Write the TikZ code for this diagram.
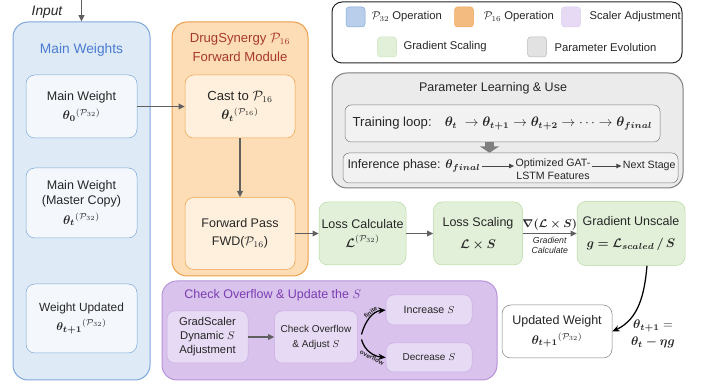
\documentclass[tikz,border=0pt]{standalone}
\usepackage[no-math]{fontspec}
\setmainfont{Liberation Sans}
\usepackage{amsmath,bm}
\usetikzlibrary{arrows.meta,positioning}
\usepackage{xcolor}
\definecolor{ink}{HTML}{262626}
\definecolor{flowgray}{HTML}{5F5F5F}
\definecolor{mwfill}{HTML}{DEEBF7}
\definecolor{mwline}{HTML}{7EA6DA}
\definecolor{mwinner}{HTML}{F4F8FD}
\definecolor{mwtext}{HTML}{4A7BD0}
\definecolor{fpfill}{HTML}{FDDDB6}
\definecolor{fpline}{HTML}{EE9E48}
\definecolor{fpinner}{HTML}{FEF0DC}
\definecolor{fptext}{HTML}{A6392B}
\definecolor{gsfill}{HTML}{E2F0D9}
\definecolor{gsline}{HTML}{B4D99E}
\definecolor{scfill}{HTML}{D9C2EC}
\definecolor{scline}{HTML}{B693DA}
\definecolor{scinner}{HTML}{E7DAF4}
\definecolor{sctext}{HTML}{7A3EB3}
\definecolor{pefill}{HTML}{EBEBEB}
\definecolor{peline}{HTML}{7F7F7F}
\definecolor{peinner}{HTML}{F2F2F2}
\definecolor{pekey}{HTML}{E2E2E2}
\newcommand{\fsz}[2]{\fontsize{#1}{#2}\selectfont}
\tikzset{
  >={Triangle[length=5pt,width=4.5pt]},
  every node/.style={text=ink,font=\fsz{10}{12.5}},
  wh/.style 2 args={minimum width=#1*0.8pt,minimum height=#2*0.8pt},
  panel/.style={draw=#1line,fill=#1fill,rounded corners=12pt,line width=0.8pt},
  ttl/.style={font=\fsz{11}{13},align=center},
  mwbox/.style={draw=mwline,fill=mwinner,rounded corners=7pt,align=center,inner sep=2pt},
  fpbox/.style={draw=fpline,fill=fpinner,rounded corners=7pt,align=center,inner sep=2pt},
  lossbox/.style={draw=gsline,fill=gsfill,rounded corners=7pt,align=center,inner sep=2pt},
  scbox/.style={draw=scline!75,fill=scinner,rounded corners=6pt,align=center,inner sep=2pt},
  pebox/.style={draw=peline,fill=peinner,rounded corners=5pt,align=center,inner sep=2pt},
  outbox/.style={draw=peline,fill=white,rounded corners=7pt,align=center,inner sep=2pt},
  swatch/.style 2 args={draw=#1,fill=#2,rounded corners=2.5pt,minimum width=15.2pt,minimum height=16pt,inner sep=0pt},
  key/.style={anchor=west,font=\fsz{9}{11},inner sep=1pt},
  flow/.style={->,draw=flowgray,line width=1.2pt},
  thinflow/.style={-{Triangle[length=4pt,width=3.5pt]},draw=ink!85,line width=0.7pt},
  curvearrow/.style={-{Stealth[length=6pt,width=5pt]},draw=black,line width=1pt},
  fat/.style={-{Triangle[length=5pt,width=15pt]},draw=peline,line width=7pt},
  tag/.style={font=\fsz{5}{6}\bfseries,inner sep=0.6pt,sloped},
}

\begin{document}
\begin{tikzpicture}[x=0.8pt,y=-0.8pt]
\useasboundingbox (0,0) rectangle (705,387);

% Main weights column (FP32 master copy)
\node[panel=mw,wh={137}{358}] (mw) at (81.5,201) {};
\node[ttl,text=mwtext] (mwtitle) at (81.5,50) {Main Weights};
\node[mwbox,wh={111}{63}] (w0) at (81.5,106.5) {Main Weight\\[3pt] $\bm{\theta_0}{}^{(\mathcal{P}_{32})}$};
\node[mwbox,wh={111}{70}] (wt) at (81.5,203) {Main Weight\\(Master Copy)\\[3pt] $\bm{\theta_t}{}^{(\mathcal{P}_{32})}$};
\node[mwbox,wh={111}{69},font=\fsz{9.5}{12}] (wu) at (81.5,318.5) {Weight Updated\\[3pt] $\bm{\theta_{t+1}}{}^{(\mathcal{P}_{32})}$};
\coordinate (in) at (81.5,0);
\node[font=\fsz{11}{13}\itshape] (inlbl) at (47,12) {Input};
\draw[flow] (in) -- (mw);

% FP16 forward module
\node[panel=fp,wh={136}{254}] (fp) at (240,149) {};
\node[ttl,text=fptext,font=\fsz{10.5}{15}] (fptitle) at (240,47.5) {DrugSynergy $\mathcal{P}_{16}$\\Forward Module};
\node[fpbox,wh={110}{63},font=\fsz{10.5}{13}] (cast) at (240,106.5) {Cast to $\mathcal{P}_{16}$\\[2pt] $\bm{\theta_t}{}^{(\mathcal{P}_{16})}$};
\node[fpbox,wh={110}{72}] (fwd) at (240,233.5) {Forward Pass\\[2pt] FWD($\mathcal{P}_{16}$)};
\draw[flow] (w0) -- (cast);
\draw[flow] (cast) -- (fwd);

% loss + gradient chain
\node[lossbox,wh={87}{63}] (lcalc) at (362.5,233.5) {Loss Calculate\\[2pt] $\bm{\mathcal{L}}^{(\mathcal{P}_{32})}$};
\node[lossbox,wh={89}{63},right=21.6pt of lcalc] (lscale) {Loss Scaling\\[5pt] $\bm{\mathcal{L}\times S}$};
\node[lossbox,wh={108}{64},right=43.2pt of lscale] (gun) {Gradient Unscale\\[5pt] $\bm{g=\mathcal{L}_{scaled}\,/\,S}$};
\draw[flow] (fwd) -- (lcalc);
\draw[flow] (lcalc) -- (lscale);
\draw[flow] (lscale) -- node[above,font=\fsz{9}{11},inner sep=2pt] {$\bm{\nabla(\mathcal{L}\times S)}$}
  node[below,font=\fsz{7}{8.5}\itshape,align=center,inner sep=2pt] {Gradient\\Calculate} (gun);

% optimizer step
\node[outbox,wh={110}{53}] (upd) at (557,331.5) {Updated Weight\\[3pt] $\bm{\theta_{t+1}}{}^{(\mathcal{P}_{32})}$};
\draw[curvearrow] ([xshift=12.8pt]gun.south) to[out=-95,in=25] (upd.east);
\node[align=center,font=\fsz{10}{13}] (rule) at (653,334) {$\bm{\theta_{t+1}} =$\\$\bm{\theta_t-\eta g}$};

% legend
\node[draw=ink,rounded corners=8pt,line width=0.8pt,wh={350}{61}] (legend) at (507,32.5) {};
\node[swatch={mwline}{mwline!55}] (kb) at (355.5,17) {};
\node[key] at (370,17) {$\mathcal{P}_{32}$ Operation};
\node[swatch={fpline!90}{fpline!70}] (ko) at (464,17) {};
\node[key] at (482,17) {$\mathcal{P}_{16}$ Operation};
\node[swatch={scline!45}{scinner}] (kp) at (571,17) {};
\node[key] at (588,17) {Scaler Adjustment};
\node[swatch={gsline!70}{gsfill}] (kg) at (387,47) {};
\node[key] at (402,47) {Gradient Scaling};
\node[swatch={peline!55}{pekey}] (kq) at (537,47) {};
\node[key] at (553,47) {Parameter Evolution};

% parameter learning & use
\node[panel=pe,wh={351}{115}] (pe) at (507.5,130.5) {};
\node (petitle) at (493,88) {Parameter Learning \& Use};
\node[pebox,wh={315}{37},font=\fsz{10.5}{13}] (train) at (502.5,123.5)
  {Training loop:\quad $\bm{\theta_t}\;\to\bm{\theta_{t+1}}\to\bm{\theta_{t+2}}\to\cdots\to\bm{\theta_{final}}$};
\node[pebox,wh={335}{30}] (infer) at (510.5,168) {};
\node[anchor=west,inner sep=1pt] (inf1) at (346,166) {Inference phase: $\bm{\theta_{final}}$};
\node[font=\fsz{8.5}{10},align=center,inner sep=1pt] (inf2) at (553,169) {Optimized GAT-\\LSTM Features};
\node[font=\fsz{8.5}{10},anchor=east,inner sep=1pt] (inf3) at (677,166) {Next Stage};
\draw[thinflow] (inf1) -- (inf1 -| inf2.west);
\draw[thinflow] (inf2.east |- inf3) -- (inf3);
\draw[fat] ([xshift=-10.4pt]train.south) -- ([xshift=-10.4pt]train.south |- infer.north);

% dynamic loss scaler
\node[panel=sc,wh={335}{99}] (sc) at (329.5,330.5) {};
\node[anchor=west,text=sctext,font=\fsz{10}{12}] (sctitle) at (180,295) {Check Overflow \& Update the $S$};
\node[scbox,wh={81}{52},font=\fsz{9}{11.2}] (gs) at (207.5,337) {GradScaler\\Dynamic $S$\\Adjustment};
\node[scbox,wh={83}{52},font=\fsz{8}{12},right=20.8pt of gs] (chk) {Check Overflow\\\& Adjust $S$};
\node[scbox,wh={86}{30},font=\fsz{8.5}{10}] (inc) at (429,310) {Increase $S$};
\node[scbox,wh={86}{29},font=\fsz{8}{10}] (dec) at (429,357.5) {Decrease $S$};
\draw[flow] (gs) -- (chk);
\draw[curvearrow] ([xshift=3pt,yshift=2pt]chk.east) to[out=75,in=185] node[tag,above,pos=0.62] {finite} (inc.west);
\draw[curvearrow] ([xshift=3pt,yshift=-2pt]chk.east) to[out=-75,in=175] node[tag,below,pos=0.62] {overflow} (dec.west);

\end{tikzpicture}
\end{document}
